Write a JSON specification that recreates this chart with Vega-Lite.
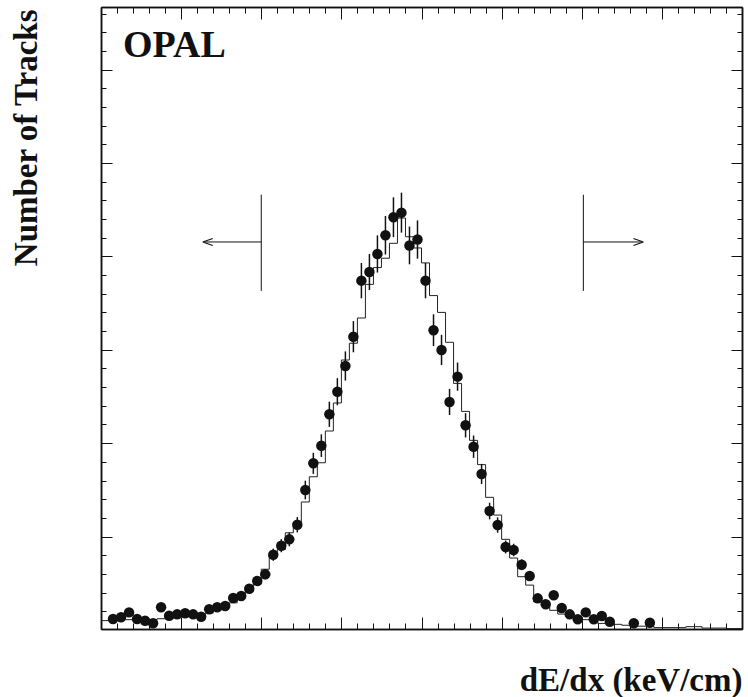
{
  "$schema": "https://vega.github.io/schema/vega-lite/v6.json",
  "width": 641,
  "height": 622,
  "autosize": "none",
  "padding": {"left": 101, "top": 7, "right": 6, "bottom": 68},
  "background": "white",
  "config": {
    "view": {"stroke": null},
    "axis": {
      "labels": false, "grid": false, "domain": true,
      "domainColor": "#111", "domainWidth": 1.5,
      "tickColor": "#111", "tickWidth": 1,
      "titleFont": "Liberation Serif", "titleFontSize": 33, "titleFontWeight": "bold", "titleColor": "#111"
    }
  },
  "datasets": {
    "pts": [
      {"x":0.15,"y":11.7,"lo":10.0,"hi":13.4},{"x":0.25,"y":13.5,"lo":11.6,"hi":15.4},{"x":0.35,"y":18.8,"lo":16.5,"hi":21.1},
      {"x":0.45,"y":11.7,"lo":10.0,"hi":13.4},{"x":0.55,"y":9.9,"lo":8.4,"hi":11.4},{"x":0.65,"y":7.1,"lo":5.9,"hi":8.3},
      {"x":0.75,"y":24.2,"lo":21.4,"hi":27.0},{"x":0.85,"y":15.2,"lo":13.2,"hi":17.2},{"x":0.95,"y":16.7,"lo":14.6,"hi":18.8},
      {"x":1.05,"y":17.8,"lo":15.6,"hi":20.0},{"x":1.15,"y":16.7,"lo":14.6,"hi":18.8},{"x":1.25,"y":14.1,"lo":12.2,"hi":16.0},
      {"x":1.35,"y":22.1,"lo":19.5,"hi":24.7},{"x":1.45,"y":24.2,"lo":21.4,"hi":27.0},{"x":1.55,"y":25.6,"lo":22.7,"hi":28.5},
      {"x":1.65,"y":34.2,"lo":30.7,"hi":37.7},{"x":1.75,"y":36.3,"lo":32.6,"hi":40.0},{"x":1.85,"y":44.1,"lo":39.9,"hi":48.3},
      {"x":1.95,"y":52.4,"lo":47.6,"hi":57.2},{"x":2.05,"y":59.5,"lo":54.3,"hi":64.7},{"x":2.15,"y":80.5,"lo":74.0,"hi":87.0},
      {"x":2.25,"y":90.2,"lo":83.2,"hi":97.2},{"x":2.35,"y":97.0,"lo":89.6,"hi":104.4},{"x":2.45,"y":112.6,"lo":104.4,"hi":120.8},
      {"x":2.55,"y":149.8,"lo":139.8,"hi":159.8},{"x":2.65,"y":178.4,"lo":167.1,"hi":189.7},{"x":2.75,"y":197.3,"lo":185.2,"hi":209.4},
      {"x":2.85,"y":230.9,"lo":217.4,"hi":244.4},{"x":2.95,"y":255.1,"lo":240.6,"hi":269.6},{"x":3.05,"y":282.6,"lo":267.0,"hi":298.2},
      {"x":3.15,"y":314.0,"lo":297.3,"hi":330.7},{"x":3.25,"y":374.0,"lo":355.1,"hi":392.9},{"x":3.35,"y":383.3,"lo":364.0,"hi":402.6},
      {"x":3.45,"y":402.6,"lo":382.7,"hi":422.5},{"x":3.55,"y":422.6,"lo":402.0,"hi":443.2},{"x":3.65,"y":441.9,"lo":420.6,"hi":463.2},
      {"x":3.75,"y":446.8,"lo":425.4,"hi":468.2},{"x":3.85,"y":411.7,"lo":391.5,"hi":431.9},{"x":3.95,"y":418.0,"lo":397.5,"hi":438.5},
      {"x":4.05,"y":374.0,"lo":355.1,"hi":392.9},{"x":4.15,"y":320.9,"lo":303.9,"hi":337.9},{"x":4.25,"y":299.8,"lo":283.6,"hi":316.0},
      {"x":4.35,"y":244.1,"lo":230.1,"hi":258.1},{"x":4.45,"y":271.2,"lo":256.1,"hi":286.3},{"x":4.55,"y":219.1,"lo":206.1,"hi":232.1},
      {"x":4.65,"y":196.2,"lo":184.2,"hi":208.2},{"x":4.75,"y":167.0,"lo":156.2,"hi":177.8},{"x":4.85,"y":127.3,"lo":118.4,"hi":136.2},
      {"x":4.95,"y":112.3,"lo":104.1,"hi":120.5},{"x":5.05,"y":88.8,"lo":81.9,"hi":95.7},{"x":5.15,"y":85.6,"lo":78.9,"hi":92.3},
      {"x":5.25,"y":69.8,"lo":64.0,"hi":75.6},{"x":5.35,"y":57.7,"lo":52.6,"hi":62.8},{"x":5.45,"y":33.8,"lo":30.3,"hi":37.3},
      {"x":5.55,"y":27.5,"lo":24.5,"hi":30.5},{"x":5.65,"y":37.2,"lo":33.4,"hi":41.0},{"x":5.75,"y":23.5,"lo":20.8,"hi":26.2},
      {"x":5.85,"y":16.7,"lo":14.6,"hi":18.8},{"x":5.95,"y":11.4,"lo":9.7,"hi":13.1},{"x":6.05,"y":18.8,"lo":16.5,"hi":21.1},
      {"x":6.15,"y":11.4,"lo":9.7,"hi":13.1},{"x":6.25,"y":14.9,"lo":12.9,"hi":16.9},{"x":6.35,"y":8.8,"lo":7.4,"hi":10.2},
      {"x":6.65,"y":7.1,"lo":5.9,"hi":8.3},{"x":6.85,"y":7.7,"lo":6.4,"hi":9.0}
    ],
    "mc": [
      {"e":0.0,"v":10},{"e":0.1,"v":10},{"e":0.2,"v":11},{"e":0.3,"v":11},{"e":0.4,"v":11},{"e":0.5,"v":11},
      {"e":0.6,"v":11},{"e":0.7,"v":12},{"e":0.8,"v":12},{"e":0.9,"v":13},{"e":1.0,"v":14},{"e":1.1,"v":15},
      {"e":1.2,"v":16},{"e":1.3,"v":18},{"e":1.4,"v":21},{"e":1.5,"v":24},{"e":1.6,"v":29},{"e":1.7,"v":34},
      {"e":1.8,"v":41},{"e":1.9,"v":49},{"e":2.0,"v":65},{"e":2.1,"v":79},{"e":2.2,"v":86},{"e":2.3,"v":104},
      {"e":2.4,"v":111},{"e":2.5,"v":137},{"e":2.6,"v":164},{"e":2.7,"v":179},{"e":2.8,"v":213},{"e":2.9,"v":243},
      {"e":3.0,"v":289},{"e":3.1,"v":307},{"e":3.2,"v":334},{"e":3.3,"v":370},{"e":3.4,"v":388},{"e":3.5,"v":398},
      {"e":3.6,"v":414},{"e":3.7,"v":441},{"e":3.8,"v":421},{"e":3.9,"v":409},{"e":4.0,"v":393},{"e":4.1,"v":358},
      {"e":4.2,"v":340},{"e":4.3,"v":308},{"e":4.4,"v":264},{"e":4.5,"v":234},{"e":4.6,"v":203},{"e":4.7,"v":177},
      {"e":4.8,"v":142},{"e":4.9,"v":123},{"e":5.0,"v":97},{"e":5.1,"v":77},{"e":5.2,"v":57},{"e":5.3,"v":48},
      {"e":5.4,"v":30},{"e":5.5,"v":27},{"e":5.6,"v":21},{"e":5.7,"v":17},{"e":5.8,"v":14},{"e":5.9,"v":14},
      {"e":6.0,"v":11},{"e":6.1,"v":11},{"e":6.2,"v":7},{"e":6.3,"v":7},{"e":6.4,"v":6},{"e":6.5,"v":5},
      {"e":6.6,"v":4},{"e":6.7,"v":4},{"e":6.8,"v":4},{"e":6.9,"v":2.5},{"e":7.0,"v":2.5},{"e":7.1,"v":2.5},
      {"e":7.2,"v":2.5},{"e":7.3,"v":3.5},{"e":7.4,"v":3.5},{"e":7.5,"v":2},{"e":7.6,"v":2},{"e":7.7,"v":2},
      {"e":7.8,"v":1.5},{"e":7.9,"v":1.5},{"e":8.0,"v":1.5}
    ],
    "vlines": [{"x":2.0,"y1":363,"y2":466},{"x":6.02,"y1":363,"y2":466}],
    "hlines": [{"x1":2.0,"x2":1.29,"y":415.4},{"x1":6.02,"x2":6.75,"y":415.4}],
    "heads": [{"x":1.27,"y":415.4,"dir":"left"},{"x":6.77,"y":415.4,"dir":"right"}],
    "label": [{"x":0.275,"y":613.6,"text":"OPAL"}]
  },
  "resolve": {"axis": {"x": "independent", "y": "independent"}},
  "layer": [
    {
      "data": {"name": "mc"},
      "mark": {"type": "line", "interpolate": "step-after", "color": "#222", "strokeWidth": 1},
      "encoding": {
        "x": {"field": "e", "type": "quantitative", "scale": {"domain": [0, 8], "nice": false, "zero": false},
              "axis": {"orient": "bottom", "values": [1,2,3,4,5,6,7], "tickSize": -12, "title": "dE/dx (keV/cm)",
                       "titleX": 641, "titleY": 61, "titleAlign": "right", "titleBaseline": "alphabetic", "titleAnchor": "end"}},
        "y": {"field": "v", "type": "quantitative", "scale": {"domain": [1, 667], "nice": false, "zero": false},
              "axis": {"orient": "left", "values": [100,200,300,400,500,600], "tickSize": -11, "title": "Number of Tracks",
                       "titleX": -65, "titleY": 2, "titleAngle": -90, "titleAlign": "right", "titleBaseline": "alphabetic", "titleAnchor": "end"}}
      }
    },
    {
      "data": {"name": "pts"},
      "mark": {"type": "rule", "color": "#111", "strokeWidth": 1.5},
      "encoding": {
        "x": {"field": "x", "type": "quantitative", "scale": {"domain": [0, 8], "nice": false, "zero": false},
              "axis": {"orient": "top", "values": [1,2,3,4,5,6,7], "tickSize": -12, "title": null}},
        "y": {"field": "lo", "type": "quantitative", "scale": {"domain": [1, 667], "nice": false, "zero": false},
              "axis": {"orient": "right", "values": [100,200,300,400,500,600], "tickSize": -11, "title": null}},
        "y2": {"field": "hi"}
      }
    },
    {
      "data": {"name": "pts"},
      "mark": {"type": "circle", "color": "#111", "opacity": 1, "size": 110},
      "encoding": {
        "x": {"field": "x", "type": "quantitative", "scale": {"domain": [0, 8], "nice": false, "zero": false},
              "axis": {"orient": "bottom", "values": [0.2,0.4,0.6,0.8,1.2,1.4,1.6,1.8,2.2,2.4,2.6,2.8,3.2,3.4,3.6,3.8,4.2,4.4,4.6,4.8,5.2,5.4,5.6,5.8,6.2,6.4,6.6,6.8,7.2,7.4,7.6,7.8], "tickSize": -6, "title": null}},
        "y": {"field": "y", "type": "quantitative", "scale": {"domain": [1, 667], "nice": false, "zero": false},
              "axis": {"orient": "left", "values": [20,40,60,80,120,140,160,180,220,240,260,280,320,340,360,380,420,440,460,480,520,540,560,580,620,640,660], "tickSize": -5, "title": null}}
      }
    },
    {
      "data": {"name": "vlines"},
      "mark": {"type": "rule", "color": "#111", "strokeWidth": 1},
      "encoding": {
        "x": {"field": "x", "type": "quantitative", "scale": {"domain": [0, 8], "nice": false, "zero": false},
              "axis": {"orient": "top", "values": [0.2,0.4,0.6,0.8,1.2,1.4,1.6,1.8,2.2,2.4,2.6,2.8,3.2,3.4,3.6,3.8,4.2,4.4,4.6,4.8,5.2,5.4,5.6,5.8,6.2,6.4,6.6,6.8,7.2,7.4,7.6,7.8], "tickSize": -6, "title": null}},
        "y": {"field": "y1", "type": "quantitative", "scale": {"domain": [1, 667], "nice": false, "zero": false},
              "axis": {"orient": "right", "values": [20,40,60,80,120,140,160,180,220,240,260,280,320,340,360,380,420,440,460,480,520,540,560,580,620,640,660], "tickSize": -5, "title": null}},
        "y2": {"field": "y2"}
      }
    },
    {
      "data": {"name": "hlines"},
      "mark": {"type": "rule", "color": "#111", "strokeWidth": 1},
      "encoding": {
        "x": {"field": "x1", "type": "quantitative", "scale": {"domain": [0, 8], "nice": false, "zero": false}, "axis": null},
        "x2": {"field": "x2"},
        "y": {"field": "y", "type": "quantitative", "scale": {"domain": [1, 667], "nice": false, "zero": false}, "axis": null}
      }
    },
    {
      "data": {"name": "heads"},
      "mark": {"type": "point", "filled": false, "strokeWidth": 1.2, "size": 100, "opacity": 1},
      "encoding": {
        "x": {"field": "x", "type": "quantitative", "scale": {"domain": [0, 8], "nice": false, "zero": false}, "axis": null},
        "y": {"field": "y", "type": "quantitative", "scale": {"domain": [1, 667], "nice": false, "zero": false}, "axis": null},
        "shape": {"field": "dir", "type": "nominal", "legend": null,
                  "scale": {"domain": ["left", "right"], "range": ["M0,0L2,-0.7M0,0L2,0.7", "M0,0L-2,-0.7M0,0L-2,0.7"]}},
        "color": {"value": "#111"}
      }
    },
    {
      "data": {"name": "label"},
      "mark": {"type": "text", "font": "Liberation Serif", "fontWeight": "bold", "fontSize": 38, "align": "left", "baseline": "alphabetic", "color": "#111"},
      "encoding": {
        "x": {"field": "x", "type": "quantitative", "scale": {"domain": [0, 8], "nice": false, "zero": false}, "axis": null},
        "y": {"field": "y", "type": "quantitative", "scale": {"domain": [1, 667], "nice": false, "zero": false}, "axis": null},
        "text": {"field": "text"}
      }
    }
  ]
}
